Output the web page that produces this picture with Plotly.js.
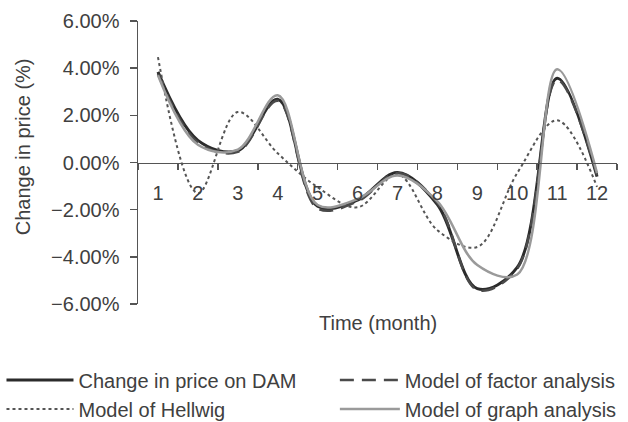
<!DOCTYPE html>
<html>
<head>
<meta charset="utf-8">
<script src="https://cdn.plot.ly/plotly-3.0.1.min.js"></script>
<style>html,body{margin:0;padding:0;background:#fff;}#chart{width:628px;height:422px;}</style>
</head>
<body>
<div id="chart"></div>
<script>
var months = ['1','2','3','4','5','6','7','8','9','10','11','12'];
var damChange = [3.84, 0.94, 0.50, 2.68, -1.85, -1.60, -0.42, -1.78, -5.35, -4.45, 3.57, -0.60];
var factorModel = [3.75, 0.85, 0.45, 2.62, -1.95, -1.65, -0.45, -1.72, -5.40, -4.50, 3.50, -0.55];
var hellwigModel = [4.47, -1.30, 2.14, 0.39, -1.05, -1.90, -0.50, -2.87, -3.58, -0.45, 1.79, -1.03];
var graphModel = [3.70, 0.75, 0.55, 2.85, -1.80, -1.55, -0.55, -1.65, -4.35, -4.75, 3.95, -0.45];
var seriesNames = ['Change in price on DAM', 'Model of factor analysis', 'Model of Hellwig', 'Model of graph analysis'];

var FONT = 'Liberation Sans, Arial, sans-serif';
var TXT = '#404040';

var traces = [
  {x: months, y: damChange, name: seriesNames[0], type: 'scatter', mode: 'lines', legend: 'legend',
   line: {color: '#2b2b2b', width: 3, shape: 'spline', smoothing: 1}},
  {x: months, y: factorModel, name: seriesNames[1], type: 'scatter', mode: 'lines', legend: 'legend2',
   line: {color: '#4a4a4a', width: 2.5, dash: '14px,8px', shape: 'spline', smoothing: 1}},
  {x: months, y: hellwigModel, name: seriesNames[2], type: 'scatter', mode: 'lines', legend: 'legend',
   line: {color: '#555555', width: 2, dash: 'dot', shape: 'spline', smoothing: 1}},
  {x: months, y: graphModel, name: seriesNames[3], type: 'scatter', mode: 'lines', legend: 'legend2',
   line: {color: '#9a9a9a', width: 2.5, shape: 'spline', smoothing: 1}}
];

var legendBase = {
  orientation: 'v', yanchor: 'top', y: -0.2, xanchor: 'left',
  itemwidth: 60, font: {family: FONT, size: 20, color: TXT},
  bgcolor: 'rgba(0,0,0,0)', borderwidth: 0, tracegroupgap: 0
};

var layout = {
  width: 628, height: 422,
  paper_bgcolor: '#ffffff', plot_bgcolor: '#ffffff',
  margin: {l: 138, r: 11, t: 21, b: 118, autoexpand: false},
  font: {family: FONT, size: 20, color: TXT},
  showlegend: true,
  legend: Object.assign({}, legendBase, {x: -0.285, itemwidth: 67}),
  legend2: Object.assign({}, legendBase, {x: 0.411}),
  xaxis: {
    type: 'category', range: [-0.5, 11.5],
    anchor: 'free', position: 0.5,
    showline: true, linecolor: '#555', linewidth: 1.5,
    ticks: 'outside', tickson: 'boundaries', ticklen: 6, tickcolor: '#555', tickwidth: 1.5,
    ticklabelstandoff: 12,
    showgrid: false, zeroline: false,
    tickfont: {family: FONT, size: 20, color: TXT}
  },
  yaxis: {
    range: [-6, 6], dtick: 2, tickformat: '.2f', ticksuffix: '%',
    showline: true, linecolor: '#555', linewidth: 1.5,
    ticks: 'outside', ticklen: 7, tickcolor: '#555', tickwidth: 1.5,
    ticklabelstandoff: 6,
    showgrid: false, zeroline: false,
    tickfont: {family: FONT, size: 20, color: TXT}
  },
  annotations: [
    {text: 'Time (month)', xref: 'paper', yref: 'paper', x: 0.5, y: -0.067,
     xanchor: 'center', yanchor: 'middle', showarrow: false,
     font: {family: FONT, size: 20, color: TXT}},
    {text: 'Change in price (%)', xref: 'paper', yref: 'paper', x: -0.24, y: 0.554,
     xanchor: 'center', yanchor: 'middle', textangle: -90, showarrow: false,
     font: {family: FONT, size: 20, color: TXT}}
  ]
};

Plotly.newPlot('chart', traces, layout, {displayModeBar: false, staticPlot: true});
</script>
</body>
</html>
